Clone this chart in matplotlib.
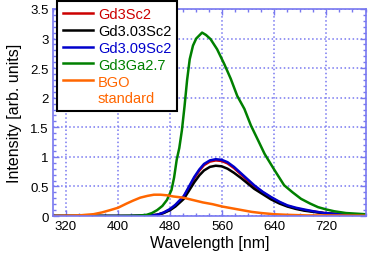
import matplotlib
matplotlib.use("Agg")
import matplotlib.pyplot as plt
from matplotlib.lines import Line2D
from matplotlib.ticker import MultipleLocator

plt.rcParams['font.family'] = ['Liberation Sans', 'DejaVu Sans']

# spectra (wavelength nm, intensity arb. units)
wl_sc = [300, 420, 450, 460, 470, 480, 488, 495, 501, 509, 517, 525, 532, 541,
         550, 559, 568, 578, 589, 599, 609, 622, 635, 648, 660, 673, 686, 700,
         717, 740, 760, 780]
gd3sc2 = [0, 0, 0.01, 0.02, 0.055, 0.11, 0.18, 0.26, 0.33, 0.48, 0.64, 0.77,
          0.86, 0.92, 0.94, 0.93, 0.89, 0.81, 0.7, 0.6, 0.5, 0.4, 0.31, 0.23,
          0.17, 0.13, 0.1, 0.075, 0.05, 0.03, 0.025, 0.02]
gd303sc2 = [0, 0, 0.01, 0.02, 0.05, 0.1, 0.16, 0.23, 0.29, 0.43, 0.57, 0.69,
            0.77, 0.83, 0.85, 0.84, 0.8, 0.73, 0.64, 0.55, 0.46, 0.37, 0.28,
            0.21, 0.16, 0.12, 0.09, 0.07, 0.045, 0.03, 0.02, 0.02]
gd309sc2 = [0, 0, 0.01, 0.02, 0.06, 0.12, 0.19, 0.27, 0.34, 0.5, 0.66, 0.79,
            0.88, 0.94, 0.96, 0.95, 0.91, 0.83, 0.72, 0.62, 0.52, 0.41, 0.32,
            0.24, 0.18, 0.14, 0.11, 0.08, 0.05, 0.03, 0.025, 0.02]

wl_ga = [300, 400, 430, 444, 452, 460, 468, 475, 482, 486, 490, 494, 498, 502,
         506, 510, 515, 520, 529, 535, 542, 552, 563, 573, 583, 594, 604, 615,
         625, 640, 655, 668, 681, 695, 707, 720, 732, 750, 765, 780]
gd3ga27 = [0, 0, 0.005, 0.02, 0.05, 0.1, 0.17, 0.27, 0.44, 0.65, 0.95, 1.15,
           1.45, 1.85, 2.3, 2.65, 2.88, 3.0, 3.1, 3.06, 2.99, 2.82, 2.57, 2.32,
           2.03, 1.81, 1.53, 1.28, 1.05, 0.78, 0.52, 0.4, 0.29, 0.21, 0.15,
           0.11, 0.08, 0.05, 0.04, 0.03]

wl_bgo = [300, 320, 340, 350, 362, 375, 388, 400, 413, 423, 434, 445, 455, 465,
          475, 485, 500, 515, 530, 545, 560, 575, 590, 605, 620, 640, 660, 690,
          720, 780]
bgo = [0, 0.005, 0.01, 0.02, 0.03, 0.06, 0.1, 0.14, 0.21, 0.26, 0.31, 0.34,
       0.36, 0.36, 0.35, 0.33, 0.31, 0.27, 0.23, 0.2, 0.16, 0.13, 0.1, 0.07,
       0.05, 0.03, 0.02, 0.01, 0.01, 0.005]

labels = ['Gd3Sc2', 'Gd3.03Sc2', 'Gd3.09Sc2', 'Gd3Ga2.7', 'BGO']
colors = ['#cc0000', '#000000', '#0000cc', '#008000', '#ff6600']

axis_blue = '#7878f0'

fig = plt.figure(figsize=(3.68, 2.55), dpi=100)
ax = fig.add_axes([0.144, 0.149, 0.851, 0.812])

series = [(wl_sc, gd3sc2), (wl_sc, gd303sc2), (wl_sc, gd309sc2),
          (wl_ga, gd3ga27), (wl_bgo, bgo)]
handles = []
for (x, y), lab, c in zip(series, labels, colors):
    line, = ax.plot(x, y, color=c, lw=1.8, label=lab)
    handles.append(line)

ax.set_xlim(300, 781)
ax.set_ylim(0, 3.5)
ax.xaxis.set_minor_locator(MultipleLocator(20))
ax.yaxis.set_minor_locator(MultipleLocator(0.1))
ax.set_xticks(range(320, 781, 80))
ax.set_yticks([0, 0.5, 1, 1.5, 2, 2.5, 3, 3.5])
ax.set_yticklabels(['0', '0.5', '1', '1.5', '2', '2.5', '3', '3.5'])

ax.tick_params(which='both', direction='in', top=True, right=True,
               color=axis_blue, labelsize=9.5, pad=3)
ax.tick_params(which='major', length=4, width=1)
ax.tick_params(which='minor', length=2.5, width=1)
for s in ax.spines.values():
    s.set_color(axis_blue)
    s.set_linewidth(1.2)
ax.grid(True, which='major', color=axis_blue, linestyle=':', lw=1.1)
ax.set_axisbelow(True)

ax.set_xlabel('Wavelength [nm]', fontsize=11.5, labelpad=2)
ax.set_ylabel('Intensity [arb. units]', fontsize=11.5, labelpad=6)

# second line of the BGO label sits on its own row without a handle
handles.append(Line2D([], [], color='none'))
leg_labels = labels + ['standard']
leg_colors = colors + ['#ff6600']

leg = ax.legend(handles, leg_labels, loc='upper left',
                bbox_to_anchor=(57 / 368, 1 - 2 / 255),
                bbox_transform=fig.transFigure, fontsize=10.5, frameon=True,
                fancybox=False, framealpha=1, edgecolor='black',
                handlelength=2.1, handletextpad=0.3, labelspacing=0.2,
                borderpad=0.4, borderaxespad=0)
leg.get_frame().set_linewidth(1.5)
for t, c in zip(leg.get_texts(), leg_colors):
    t.set_color(c)

fig.savefig('out.png', dpi=100)
